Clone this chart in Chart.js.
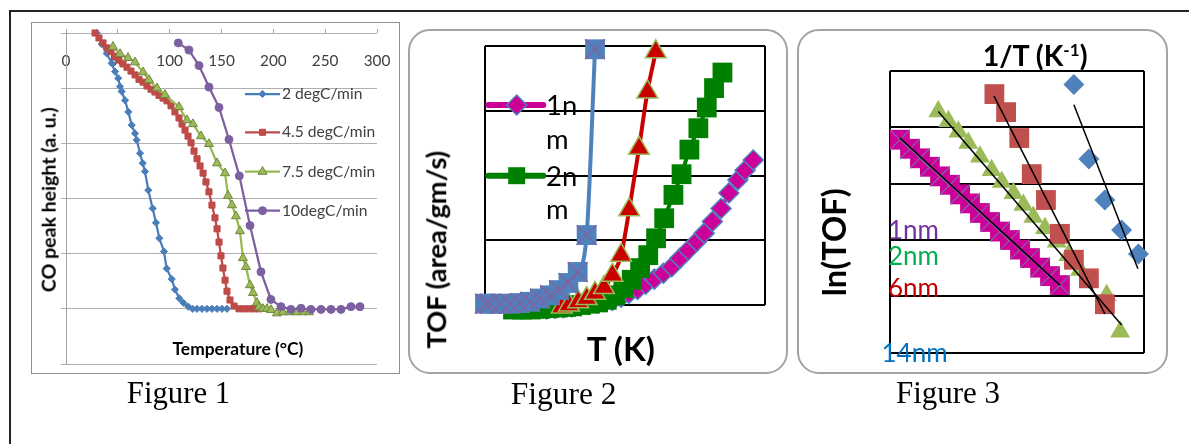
<!DOCTYPE html>
<html><head><meta charset="utf-8">
<script src="https://cdn.jsdelivr.net/npm/chart.js@4.4.1/dist/chart.umd.min.js"></script>
<style>
html,body{margin:0;padding:0;background:#fff;width:1189px;height:444px;overflow:hidden;position:relative;}
.frame{position:absolute;left:9px;top:10px;width:1250px;height:520px;border-top:2px solid #222;border-left:2px solid #222;box-sizing:border-box;}
.box{position:absolute;box-sizing:border-box;}
#b1{left:31px;top:22px;width:369px;height:352px;border:1.5px solid #8f8f8f;}
#b2{left:408px;top:29px;width:380px;height:345px;border:2px solid #a3a3a3;border-radius:22px;}
#b3{left:797px;top:29px;width:371px;height:345px;border:2px solid #a3a3a3;border-radius:22px;}
canvas{position:absolute;}
.lbl{position:absolute;white-space:nowrap;line-height:1;}
.lbl sup{font-size:0.6em;vertical-align:0;position:relative;top:-0.6em;line-height:0;}
</style></head><body>
<div class="frame"></div>
<div class="box" id="b1"></div>
<div class="box" id="b2"></div>
<div class="box" id="b3"></div>
<canvas id="c1" width="369" height="352" style="left:31px;top:22px"></canvas>
<canvas id="c2" width="380" height="345" style="left:408px;top:29px"></canvas>
<canvas id="c3" width="371" height="345" style="left:797px;top:29px"></canvas>
<script>
// ---------------- Figure 1 data ----------------
const fig1Series = ['2 degC/min', '4.5 degC/min', '7.5 degC/min', '10degC/min'];
const fig1XTicks = [0, 50, 100, 150, 200, 250, 300];
const fig1YGrid = [0, 1, 2, 3, 4, 5, 6];
const fig1Temp2 = [29.6,34.5,39.3,44.1,47.3,50.4,52.1,53.7,57.0,60.1,63.4,66.6,68.2,71.4,74.0,76.2,79.4,83.6,86.8,90.0,94.5,97.1,102.0,105.1,109.3,113.2,118.0,122.2,126.4,131.2,136.0,140.8,145.7,150.5,155.3];
const fig1Co2 = [6.0,5.8,5.63,5.45,5.30,5.18,5.03,4.94,4.78,4.57,4.33,4.18,4.06,3.82,3.64,3.49,3.15,2.82,2.56,2.28,2.04,1.73,1.54,1.35,1.19,1.11,1.04,1.0,1.0,1.0,1.0,1.0,1.0,1.0,1.0];
const fig1Temp45 = [28.0,31.8,35.7,39.5,43.4,47.3,51.1,55.0,58.8,62.7,66.6,70.4,74.3,78.1,82.0,85.8,89.7,93.6,97.4,101.3,105.1,109.0,111.9,114.8,117.7,120.6,123.5,126.4,129.3,132.2,135.0,137.9,140.8,143.7,145.7,147.6,149.5,151.4,153.4,155.3,158.2,162.1,166.9,171.7,176.5,181.3,186.2];
const fig1Co45 = [6.0,5.91,5.82,5.73,5.66,5.58,5.51,5.44,5.38,5.31,5.24,5.16,5.11,5.04,4.98,4.93,4.87,4.82,4.77,4.68,4.57,4.46,4.35,4.24,4.13,4.01,3.86,3.72,3.59,3.46,3.30,3.12,2.88,2.65,2.45,2.21,1.96,1.74,1.52,1.32,1.16,1.05,1.0,1.0,1.0,1.0,1.0];
const fig1Temp75 = [45.3,52.1,59.8,66.6,74.3,80.1,87.8,95.5,109.0,116.7,122.5,130.2,137.9,145.7,153.4,156.3,160.1,164.0,167.8,170.7,173.6,177.5,180.4,184.2,186.2,190.0,193.9,197.7,203.5,209.3,216.1,222.8,228.6,234.4];
const fig1Co75 = [5.75,5.62,5.55,5.47,5.29,5.15,5.0,4.88,4.66,4.42,4.35,4.13,3.99,3.64,3.46,3.05,2.88,2.68,2.41,1.92,1.76,1.43,1.29,1.11,1.03,1.0,1.0,0.98,0.92,0.94,0.94,0.94,0.94,0.94];
const fig1Temp10 = [108.3,118.6,128.3,137.9,147.6,157.2,167.2,177.5,188.1,197.7,207.4,217.0,226.7,236.3,246.0,255.6,265.3,274.9,283.6];
const fig1Co10 = [5.82,5.69,5.41,5.02,4.65,4.07,3.41,2.51,1.67,1.17,1.04,0.99,1.01,0.99,0.99,0.99,0.99,1.04,1.04];

// ---------------- Figure 2 data ----------------
const fig2Series = ['1nm', '2nm', '6nm', '14nm'];
const fig2XGrid = [0, 100];
const fig2YGrid = [0, 1, 2, 3, 4];
const fig2X1 = [22.0,25.0,28.0,31.0,34.0,36.9,39.9,42.6,45.5,48.6,51.4,54.5,57.4,60.5,63.7,66.7,69.6,72.6,75.6,78.3,81.2,84.3,87.1,90.3,92.9,95.8];
const fig2Y1 = [-0.06,-0.05,-0.04,-0.03,-0.01,0.01,0.03,0.05,0.07,0.12,0.18,0.24,0.32,0.40,0.49,0.59,0.72,0.85,0.98,1.11,1.29,1.49,1.73,1.93,2.08,2.24];
const fig2X2 = [10.0,13.2,16.4,19.6,22.8,26.0,29.0,31.1,34.3,37.5,40.4,43.5,46.4,49.4,52.4,55.4,58.3,61.1,64.0,67.3,70.2,73.0,76.2,79.2,81.8,84.8];
const fig2Y2 = [-0.07,-0.07,-0.07,-0.06,-0.05,-0.04,-0.03,-0.02,0.0,0.02,0.04,0.08,0.15,0.26,0.39,0.57,0.77,1.03,1.34,1.70,2.02,2.40,2.73,3.05,3.35,3.59];
const fig2X6 = [27.4,30.0,33.3,36.3,39.3,42.5,45.5,48.6,51.5,55.0,58.0,61.0];
const fig2Y6 = [-0.03,0.0,0.05,0.10,0.18,0.27,0.46,0.77,1.47,2.42,3.29,3.91];
const fig2X14 = [0,1.8,5.4,8.9,12.5,16.1,19.6,23.2,26.4,29.8,33.1,36.3,39.3];
const fig2Y14 = [0.02,0.02,0.02,0.02,0.03,0.05,0.10,0.15,0.23,0.34,0.51,1.08,3.95];

// ---------------- Figure 3 data ----------------
const fig3Series = ['1nm', '2nm', '6nm', '14nm'];
const fig3XGrid = [0, 100];
const fig3YGrid = [0, 1, 2, 3, 4, 5];
const fig3X1 = [3.9,7.9,11.8,15.7,19.7,23.6,27.6,31.5,35.4,39.4,43.3,47.2,51.2,55.1,59.1,63.0,66.9];
const fig3Y1 = [3.78,3.62,3.45,3.30,3.13,2.98,2.81,2.65,2.48,2.32,2.15,2.00,1.83,1.68,1.51,1.36,1.20];
const fig3X2 = [19.0,23.0,26.9,30.8,35.4,40.0,44.0,48.6,52.5,56.4,61.0,65.6,70.2,74.8,85.3,90.6];
const fig3Y2 = [4.28,4.11,3.92,3.72,3.48,3.24,3.03,2.83,2.62,2.41,2.21,1.97,1.73,1.47,1.02,0.37];
const fig3X6 = [41.1,45.7,50.9,55.8,61.4,66.9,72.4,78.3,84.6];
const fig3Y6 = [4.59,4.27,3.81,3.17,2.71,2.11,1.65,1.32,0.86];
const fig3X14 = [72.4,78.3,84.6,91.2,97.8];
const fig3Y14 = [4.76,3.44,2.71,2.18,1.75];
const fig3FitX1 = [3.9, 66.9],  fig3FitY1 = [3.81, 1.20];
const fig3FitX2 = [19.0, 91.2], fig3FitY2 = [4.28, 0.49];
const fig3FitX6 = [40.9, 84.6], fig3FitY6 = [4.56, 0.69];
const fig3FitX14 = [72.4, 97.6], fig3FitY14 = [4.40, 1.49];

// ---------------- helpers ----------------
const pts = (xs, ys) => xs.map((x, i) => ({x: x, y: ys[i]}));
const LATO = "Lato, 'DejaVu Sans', sans-serif";
const SERIF = "'Liberation Serif', 'Times New Roman', serif";

function fitSize(text, w, weight, family) {
  const el = document.createElement('div');
  el.className = 'lbl';
  el.textContent = text;
  el.style.fontFamily = family || LATO;
  el.style.fontWeight = weight || 400;
  el.style.fontSize = '100px';
  document.body.appendChild(el);
  const s = 100 * w / el.offsetWidth;
  el.remove();
  return s;
}
function addLabel(L) {
  const el = document.createElement('div');
  el.className = 'lbl';
  if (L.html) el.innerHTML = L.html; else el.textContent = L.text;
  el.style.fontFamily = L.family || LATO;
  el.style.fontWeight = L.weight || 400;
  el.style.color = L.color || '#000';
  document.body.appendChild(el);
  let size = L.size;
  if (!size) { el.style.fontSize = '100px'; size = 100 * L.w / el.offsetWidth; }
  el.style.fontSize = size + 'px';
  const w = el.offsetWidth, h = el.offsetHeight;
  el.style.left = ((L.x !== undefined) ? L.x : L.cx - w / 2) + 'px';
  el.style.top = (L.cy - h / 2) + 'px';
  if (L.rot) el.style.transform = 'rotate(' + L.rot + 'deg)';
}

const sampleLegend = {
  id: 'sampleLegend',
  afterDatasetsDraw(chart, args, opts) {
    if (!opts || !opts.items) return;
    const ctx = chart.ctx;
    for (const it of opts.items) {
      const ds = chart.data.datasets[it.dataset];
      ctx.save();
      ctx.lineCap = it.cap || 'butt';
      ctx.strokeStyle = ds.borderColor;
      ctx.lineWidth = it.lineWidth || ds.borderWidth;
      ctx.beginPath(); ctx.moveTo(it.x1, it.y); ctx.lineTo(it.x2, it.y); ctx.stroke();
      ctx.lineCap = 'butt';
      const bw = ds.pointBorderWidth || 0;
      ctx.fillStyle = ds.pointBackgroundColor;
      ctx.strokeStyle = ds.pointBorderColor;
      ctx.lineWidth = bw;
      Chart.helpers.drawPoint(ctx, {pointStyle: ds.pointStyle, radius: it.radius || ds.pointRadius, borderWidth: bw, rotation: 0},
        it.mx !== undefined ? it.mx : (it.x1 + it.x2) / 2, it.y);
      ctx.restore();
    }
  }
};

Chart.defaults.font.family = LATO;
Chart.defaults.animation = false;
const base = {responsive: false, animation: false, events: [], devicePixelRatio: 1};
const noPlug = {legend: {display: false}, tooltip: {enabled: false}, title: {display: false}};

// ---------------- Figure 1 ----------------
const f1Tick = fitSize('300', 26.7, 400);
const f1Styles = [
  {c: '#4A7EBB', fill: '#4A7EBB', bc: '#4A7EBB', ps: 'rectRot', r: 3.6, bw: 1},
  {c: '#BE4B48', fill: '#BE4B48', bc: '#BE4B48', ps: 'rect', r: 4.3, bw: 1},
  {c: '#98B954', fill: '#9BBB59', bc: '#71893F', ps: 'triangle', r: 5.2, bw: 1},
  {c: '#7D60A0', fill: '#7D60A0', bc: '#7D60A0', ps: 'circle', r: 4, bw: 1}
];
const f1Data = [pts(fig1Temp2, fig1Co2), pts(fig1Temp45, fig1Co45), pts(fig1Temp75, fig1Co75), pts(fig1Temp10, fig1Co10)];
new Chart(document.getElementById('c1'), {
  type: 'line',
  data: {datasets: fig1Series.map((name, i) => ({
    label: name, data: f1Data[i], borderColor: f1Styles[i].c, borderWidth: 2.25,
    pointStyle: f1Styles[i].ps, pointRadius: f1Styles[i].r, pointBackgroundColor: f1Styles[i].fill,
    pointBorderColor: f1Styles[i].bc, pointBorderWidth: f1Styles[i].bw, tension: 0, clip: false
  })).reverse()},
  options: Object.assign({}, base, {
    layout: {padding: {left: 30, top: 7, right: 23, bottom: 10}},
    plugins: Object.assign({}, noPlug, {sampleLegend: {items: [
      {dataset: 3, x1: 214, x2: 249, y: 72},
      {dataset: 2, x1: 214, x2: 249, y: 110.3},
      {dataset: 1, x1: 214, x2: 249, y: 149.7},
      {dataset: 0, x1: 214, x2: 249, y: 188.7}
    ]}}),
    scales: {
      x: {type: 'linear', position: {y: 5.5}, min: 0, max: 300,
          afterBuildTicks: s => { s.ticks = fig1XTicks.map(v => ({value: v})); },
          ticks: {padding: -f1Tick * 0.6, color: '#404040', font: {family: LATO, size: f1Tick}, maxRotation: 0, autoSkip: false},
          grid: {display: false, drawTicks: false}, border: {display: false}},
      xTop: {type: 'linear', position: 'top', min: 0, max: 300,
          afterBuildTicks: s => { s.ticks = fig1XTicks.map(v => ({value: v})); },
          ticks: {display: false}, grid: {drawOnChartArea: false, drawTicks: true, tickLength: 4, color: '#a6a6a6'},
          border: {display: false}, afterFit: s => { s.height = 4; }},
      y: {type: 'linear', min: 0, max: 6,
          afterBuildTicks: s => { s.ticks = fig1YGrid.map(v => ({value: v})); },
          ticks: {display: false}, grid: {color: '#b0b0b0', lineWidth: 1, drawTicks: true, tickLength: 5},
          border: {display: true, color: '#a0a0a0', width: 1}, afterFit: s => { s.width = 5; }}
    }
  }),
  plugins: [sampleLegend]
});

// ---------------- Figure 2 ----------------
new Chart(document.getElementById('c2'), {
  type: 'line',
  data: {datasets: [
    {label: fig2Series[3] + ' x', data: pts(fig2X14, fig2Y14), showLine: false, pointStyle: 'crossRot', pointRadius: 14,
     pointBorderColor: '#8064A2', pointBackgroundColor: '#8064A2', pointBorderWidth: 1.5, clip: false},
    {label: fig2Series[3], data: pts(fig2X14, fig2Y14), borderColor: '#4F81BD', borderWidth: 4, pointStyle: 'rect', pointRadius: 14,
     pointBackgroundColor: '#4F81BD', pointBorderColor: '#4F81BD', pointBorderWidth: 0, cubicInterpolationMode: 'monotone', clip: false},
    {label: fig2Series[2], data: pts(fig2X6, fig2Y6), borderColor: '#C80000', borderWidth: 4, pointStyle: 'triangle', pointRadius: 12,
     pointBackgroundColor: '#C80000', pointBorderColor: '#9BBB59', pointBorderWidth: 1.5, cubicInterpolationMode: 'monotone', clip: false},
    {label: fig2Series[1], data: pts(fig2X2, fig2Y2), borderColor: '#008000', borderWidth: 4, pointStyle: 'rect', pointRadius: 14,
     pointBackgroundColor: '#008000', pointBorderColor: '#008000', pointBorderWidth: 0, cubicInterpolationMode: 'monotone', clip: false},
    {label: fig2Series[0], data: pts(fig2X1, fig2Y1), borderColor: '#CC0099', borderWidth: 4, pointStyle: 'rectRot', pointRadius: 10,
     pointBackgroundColor: '#CC0099', pointBorderColor: '#4F81BD', pointBorderWidth: 1.5, cubicInterpolationMode: 'monotone', clip: false}
  ]},
  options: Object.assign({}, base, {
    layout: {padding: {left: 77, top: 17, right: 23, bottom: 69}},
    plugins: Object.assign({}, noPlug, {sampleLegend: {items: [
      {dataset: 4, x1: 80.3, x2: 135.3, mx: 108.7, y: 76, lineWidth: 6, cap: 'round', radius: 10},
      {dataset: 3, x1: 80.3, x2: 135.3, mx: 108.7, y: 146.7, lineWidth: 6, cap: 'round', radius: 12}
    ]}}),
    scales: {
      x: {type: 'linear', min: 0, max: 100,
          afterBuildTicks: s => { s.ticks = fig2XGrid.map(v => ({value: v})); },
          ticks: {display: false}, grid: {color: '#000', lineWidth: 2, drawTicks: false}, border: {display: false},
          afterFit: s => { s.height = 0; }},
      y: {type: 'linear', min: 0, max: 4,
          afterBuildTicks: s => { s.ticks = fig2YGrid.map(v => ({value: v})); },
          ticks: {display: false}, grid: {color: '#000', lineWidth: 2, drawTicks: false}, border: {display: false},
          afterFit: s => { s.width = 0; }}
    }
  }),
  plugins: [sampleLegend]
});

// ---------------- Figure 3 ----------------
const fitLine = (name, xs, ys) => ({label: name + ' fit', data: pts(xs, ys), borderColor: '#000', borderWidth: 1.5, pointRadius: 0, clip: false});
new Chart(document.getElementById('c3'), {
  type: 'line',
  data: {datasets: [
    fitLine(fig3Series[3], fig3FitX14, fig3FitY14),
    fitLine(fig3Series[2], fig3FitX6, fig3FitY6),
    fitLine(fig3Series[1], fig3FitX2, fig3FitY2),
    fitLine(fig3Series[0], fig3FitX1, fig3FitY1),
    {label: fig3Series[3], data: pts(fig3X14, fig3Y14), showLine: false, pointStyle: 'rectRot', pointRadius: 10.5,
     pointBackgroundColor: '#4F81BD', pointBorderColor: '#4F81BD', pointBorderWidth: 0, clip: false},
    {label: fig3Series[2], data: pts(fig3X6, fig3Y6), showLine: false, pointStyle: 'rect', pointRadius: 14,
     pointBackgroundColor: '#C0504D', pointBorderColor: '#C0504D', pointBorderWidth: 0, clip: false},
    {label: fig3Series[1], data: pts(fig3X2, fig3Y2), showLine: false, pointStyle: 'triangle', pointRadius: 11.5,
     pointBackgroundColor: '#9BBB59', pointBorderColor: '#9BBB59', pointBorderWidth: 0, clip: false},
    {label: fig3Series[0] + ' x', data: pts(fig3X1, fig3Y1), showLine: false, pointStyle: 'crossRot', pointRadius: 14,
     pointBackgroundColor: '#8064A2', pointBorderColor: '#8064A2', pointBorderWidth: 1.2, clip: false},
    {label: fig3Series[0], data: pts(fig3X1, fig3Y1), showLine: false, pointStyle: 'rect', pointRadius: 14,
     pointBackgroundColor: '#CC0099', pointBorderColor: '#CC0099', pointBorderWidth: 0, clip: false}
  ]},
  options: Object.assign({}, base, {
    layout: {padding: {left: 93, top: 42, right: 24, bottom: 21.3}},
    plugins: noPlug,
    scales: {
      x: {type: 'linear', min: 0, max: 100,
          afterBuildTicks: s => { s.ticks = fig3XGrid.map(v => ({value: v})); },
          ticks: {display: false}, grid: {color: '#000', lineWidth: 2, drawTicks: false}, border: {display: false},
          afterFit: s => { s.height = 0; }},
      y: {type: 'linear', min: 0, max: 5,
          afterBuildTicks: s => { s.ticks = fig3YGrid.map(v => ({value: v})); },
          ticks: {display: false}, grid: {color: '#000', lineWidth: 2, drawTicks: false}, border: {display: false},
          afterFit: s => { s.width = 0; }}
    }
  })
});

// ---------------- Text ----------------
const f1Leg = fitSize(fig1Series[1], 93.3, 400);
addLabel({text: 'CO peak height (a. u.)', cx: 48.5, cy: 199.5, w: 185, weight: 700, rot: -90});
addLabel({text: 'Temperature (°C)', cx: 238, cy: 348, w: 131, weight: 700});
[94, 132.3, 171.7, 210.7].forEach((cy, i) => addLabel({text: fig1Series[i], x: 282, cy: cy, size: f1Leg, color: '#404040'}));
addLabel({text: 'Figure 1', cx: 178.3, cy: 393, w: 103.3, family: SERIF});

addLabel({text: 'TOF (area/gm/s)', cx: 436.2, cy: 249, w: 198, weight: 700, rot: -90});
addLabel({text: 'T (K)', cx: 620.8, cy: 348.3, w: 68.3, weight: 700});
const f2Leg = fitSize('m', 22.5, 400);
addLabel({text: fig2Series[0].slice(0, 2), x: 546, cy: 104.7, size: f2Leg});
addLabel({text: fig2Series[0].slice(2), x: 546, cy: 138.5, size: f2Leg});
addLabel({text: fig2Series[1].slice(0, 2), x: 546, cy: 175.7, size: f2Leg});
addLabel({text: fig2Series[1].slice(2), x: 546, cy: 208.5, size: f2Leg});
addLabel({text: 'Figure 2', cx: 563.8, cy: 393.3, w: 105.7, family: SERIF});

addLabel({html: '1/T (K<sup>-1</sup>)', cx: 1035.2, cy: 55.8, w: 105, weight: 700});
addLabel({text: 'ln(TOF)', cx: 833.5, cy: 242.5, w: 108, weight: 700, rot: -90});
const f3Lab = fitSize('1nm', 51, 400);
addLabel({text: fig3Series[0], x: 888, cy: 228.7, size: f3Lab, color: '#7030A0'});
addLabel({text: fig3Series[1], x: 888, cy: 254.7, size: f3Lab, color: '#00B050'});
addLabel({text: fig3Series[2], x: 888, cy: 286.7, size: f3Lab, color: '#C00000'});
addLabel({text: fig3Series[3], x: 881.5, cy: 351.7, size: f3Lab, color: '#0070C0'});
addLabel({text: 'Figure 3', cx: 948, cy: 393.3, w: 104, family: SERIF});
</script>
</body></html>
